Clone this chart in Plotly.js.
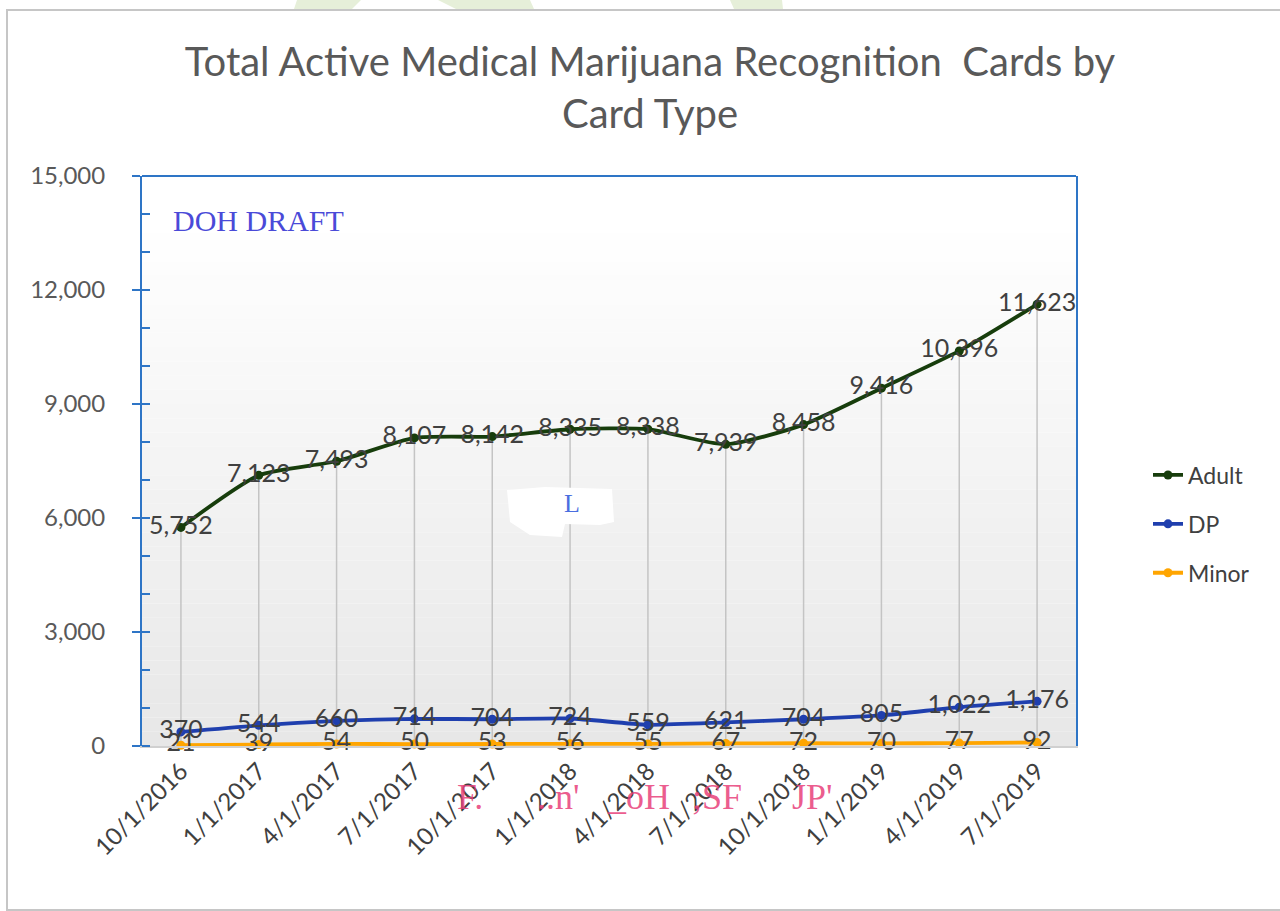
<!DOCTYPE html>
<html>
<head>
<meta charset="utf-8">
<script src="https://cdn.plot.ly/plotly-3.0.1.min.js"></script>
<style>
html,body{margin:0;padding:0;background:#fff;}
#chart{width:1280px;height:911px;}
</style>
</head>
<body>
<div id="chart"></div>
<script>
// ---- data ----
const quarters = ["10/1/2016","1/1/2017","4/1/2017","7/1/2017","10/1/2017","1/1/2018","4/1/2018","7/1/2018","10/1/2018","1/1/2019","4/1/2019","7/1/2019"];
const adult = [5752, 7123, 7493, 8107, 8142, 8335, 8338, 7939, 8458, 9416, 10396, 11623];
const dp    = [370, 544, 660, 714, 704, 724, 559, 621, 704, 805, 1022, 1176];
const minor = [21, 39, 54, 50, 53, 56, 55, 67, 72, 70, 77, 92];
const seriesNames = ["Adult", "DP", "Minor"];
const chartTitle = "Total Active Medical Marijuana Recognition  Cards by<br>Card Type";

// ---- geometry helpers (plot area in pixels) ----
const W = 1280, H = 911;
const L = 142, R = 1076, T = 176, B = 746;
const px = x => (x - L) / (R - L);
const py = y => (B - y) / (B - T);

const FONT = "Lato, 'Open Sans', sans-serif";
const TXT = "#404040";

function mkTrace(name, ys, color, extra) {
  return Object.assign({
    x: quarters, y: ys, name: name,
    type: "scatter", mode: "lines+markers+text",
    line: {color: color, width: 3.8, shape: "spline", smoothing: 0.6},
    marker: {color: color, size: 9},
    texttemplate: "%{y:,}", textposition: "middle center",
    textfont: {family: FONT, size: 25, color: TXT},
    legendgroup: name, hoverinfo: "skip", cliponaxis: false
  }, extra || {});
}

const traces = [
  mkTrace(seriesNames[0], adult, "#173d0c", {
    error_y: {type: "data", symmetric: false, array: adult.map(() => 0), arrayminus: adult,
              color: "#c4c4c4", thickness: 1.5, width: 0}
  }),
  mkTrace(seriesNames[1], dp, "#1f3fae"),
  mkTrace(seriesNames[2], minor, "#ffa500")
];

// gradient background bands for plot area
const shapes = [];
const nb = 40;
for (let i = 0; i < nb; i++) {
  const t0 = i / nb, t1 = (i + 1) / nb;
  const tm = (t0 + t1) / 2;
  const k = Math.max(0, (tm - 0.08) / 0.92);
  const v = Math.round(255 - k * 24);
  shapes.push({type: "rect", xref: "x domain", yref: "y domain", x0: 0, x1: 1,
    y0: 1 - t1, y1: 1 - t0, fillcolor: `rgb(${v},${v},${v})`, line: {width: 0}, layer: "below"});
}
// top border of plot area
shapes.push({type: "line", xref: "x domain", yref: "y domain", x0: 0, x1: 1, y0: 1, y1: 1,
  line: {color: "#2e75c6", width: 2}, layer: "above"});
// outer chart border
shapes.push({type: "rect", xref: "paper", yref: "paper", x0: px(7), x1: px(1295), y0: py(910), y1: py(10),
  line: {color: "#c6c6c6", width: 2}, fillcolor: "rgba(0,0,0,0)", layer: "below"});
// light green watermark fragments above the chart
function poly(pts) {
  return "M" + pts.map(p => px(p[0]) + "," + py(p[1])).join(" L") + " Z";
}
[[[297,0],[361,0],[352,9],[294,9]], [[438,0],[530,0],[534,9],[456,9]], [[730,0],[782,0],[783,9],[734,9]]]
  .forEach(p => shapes.push({type: "path", xref: "paper", yref: "paper", path: poly(p),
    fillcolor: "#e6efd9", line: {width: 0}, layer: "below"}));
// white blob in middle of plot
shapes.push({type: "path", xref: "paper", yref: "paper",
  path: poly([[507,490],[545,487],[612,489],[614,522],[600,525],[565,524],[562,537],[530,535],[510,522]]),
  fillcolor: "#ffffff", line: {width: 0}, layer: "above"});

const annotations = [
  {text: "DOH DRAFT", xref: "paper", yref: "paper", x: px(171), y: py(220), xanchor: "left", yanchor: "middle",
   showarrow: false, font: {family: "'Liberation Serif', 'DejaVu Serif', serif", size: 30, color: "#4a4ad8"}},
  {text: "L", xref: "paper", yref: "paper", x: px(572), y: py(503), xanchor: "center", yanchor: "middle",
   showarrow: false, font: {family: "'Liberation Serif', serif", size: 26, color: "#4a6ee0"}}
];
// pink watermark fragments over the x labels
[["F.", 455], ["..n'", 535], ["_oH", 605], [";SF", 690], ["JP'", 790]].forEach(f => annotations.push({
  text: f[0], xref: "paper", yref: "paper", x: px(f[1]), y: py(797), xanchor: "left", yanchor: "middle",
  showarrow: false, font: {family: "'Liberation Serif', serif", size: 36, color: "rgba(232,64,122,0.85)"}}));

const layout = {
  width: W, height: H,
  margin: {l: L, r: W - R, t: T, b: H - B, pad: 0},
  paper_bgcolor: "#ffffff", plot_bgcolor: "rgba(0,0,0,0)",
  title: {text: chartTitle, xref: "paper", x: px(650), xanchor: "center", yref: "container", y: 1 - 76 / H, yanchor: "middle",
          font: {family: FONT, size: 40, color: "#595959"}},
  showlegend: true,
  legend: {x: px(1148), xanchor: "left", y: py(524), yanchor: "middle", traceorder: "grouped", tracegroupgap: 16,
           font: {family: FONT, size: 23, color: TXT}, bgcolor: "rgba(0,0,0,0)", itemclick: false},
  xaxis: {type: "category", range: [-0.5, 11.5], showgrid: false, zeroline: false,
          showline: true, linecolor: "#d0d0d0", linewidth: 1.5, ticks: "",
          tickangle: -45, tickfont: {family: FONT, size: 24, color: TXT}, fixedrange: true},
  yaxis: {range: [0, 15000], dtick: 3000, tickformat: ",", showgrid: false, zeroline: false,
          showline: true, mirror: true, linecolor: "#2e75c6", linewidth: 2,
          ticks: "outside", ticklen: 8, tickcolor: "#2e75c6", tickwidth: 2, ticklabelstandoff: 22,
          minor: {dtick: 1000, ticks: "inside", ticklen: 8, tickcolor: "#2e75c6", tickwidth: 2, showgrid: false},
          tickfont: {family: FONT, size: 24, color: "#595959"}, fixedrange: true},
  shapes: shapes,
  annotations: annotations,
  hovermode: false
};

Plotly.newPlot("chart", traces, layout, {displayModeBar: false, staticPlot: true});
</script>
</body>
</html>
